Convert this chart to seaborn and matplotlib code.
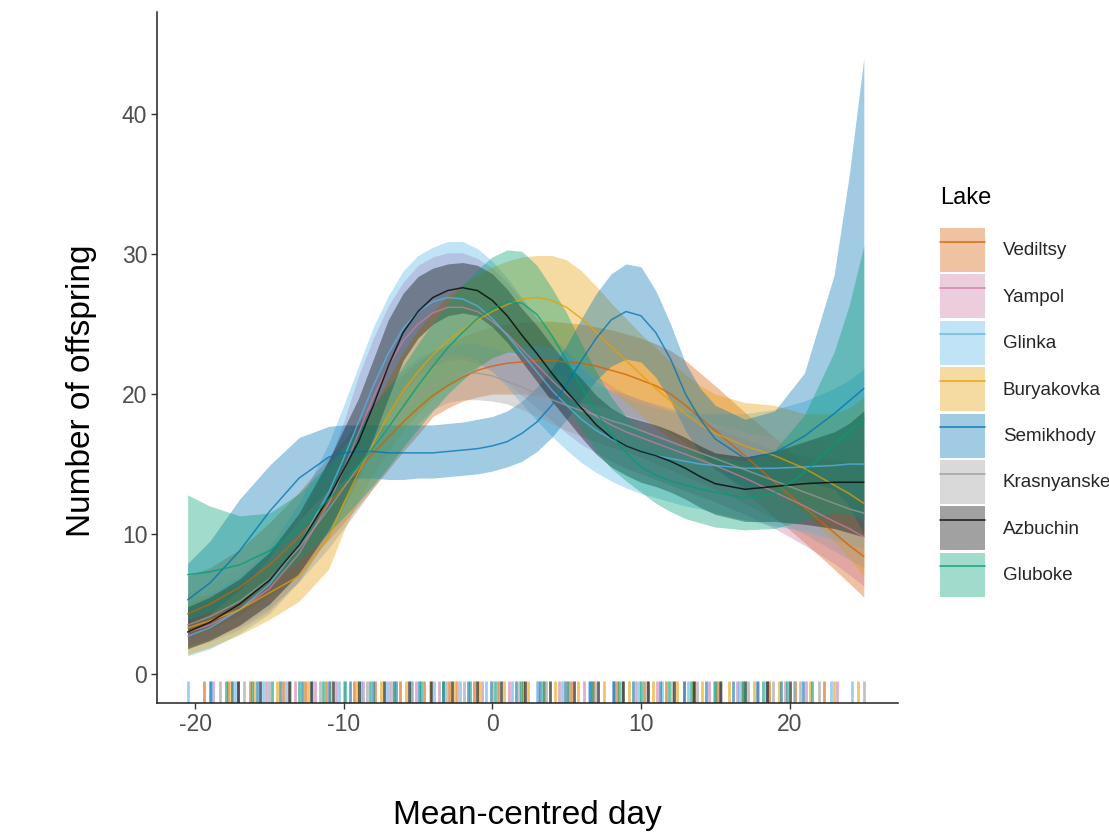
import numpy as np
import pandas as pd
import matplotlib
matplotlib.use("Agg")
import matplotlib.pyplot as plt
import seaborn as sns
from matplotlib.patches import Patch
from matplotlib.lines import Line2D

# ---------------- data ----------------
lakes = ["Vediltsy", "Yampol", "Glinka", "Buryakovka", "Semikhody",
         "Krasnyanske", "Azbuchin", "Gluboke"]
colors = ["#D55E00", "#CC79A7", "#56B4E9", "#E69F00", "#0072B2",
          "#999999", "#000000", "#009E73"]

day = [-20.5, -19, -17, -15, -13,
       -11, -10, -9, -8, -7, -6, -5, -4, -3, -2, -1,
       0, 1, 2, 3, 4, 5, 6, 7, 8, 9,
       10, 11, 12, 13, 14, 15,
       17, 19, 21, 23, 24, 25]

vediltsy_fit = [4.3, 5.0, 6.2, 7.8, 9.8,
                12.2, 13.4, 14.6, 15.8, 16.9, 18.0, 19.0, 19.9, 20.6, 21.2, 21.7,
                22.0, 22.2, 22.3, 22.4, 22.4, 22.3, 22.2, 22.0, 21.7, 21.4,
                21.0, 20.6, 20.0, 19.2, 18.3, 17.4,
                15.6, 13.7, 11.9, 10.1, 9.2, 8.4]
vediltsy_lo = [2.6, 3.2, 4.2, 5.6, 7.3,
               9.6, 10.8, 12.0, 13.3, 14.6, 15.9, 17.1, 18.4, 19.0, 19.5, 19.8,
               20.0, 20.0, 20.0, 19.9, 19.8, 19.6, 19.4, 19.2, 18.9, 18.5,
               18.2, 17.8, 17.2, 16.5, 15.6, 14.8,
               13.0, 11.2, 9.4, 7.5, 6.5, 5.5]
vediltsy_hi = [7.0, 7.6, 8.9, 10.8, 13.0,
               15.5, 16.7, 18.0, 19.2, 20.4, 21.4, 22.3, 23.0, 23.6, 24.1, 24.5,
               24.8, 25.0, 25.1, 25.2, 25.2, 25.1, 25.0, 24.8, 24.6, 24.3,
               24.0, 23.6, 23.1, 22.4, 21.5, 20.6,
               18.7, 16.9, 15.0, 13.4, 12.8, 12.4]

yampol_fit = [3.0, 3.5, 4.6, 6.1, 8.6,
              12.2, 14.6, 17.2, 19.8, 22.0, 23.8, 25.0, 25.8, 26.2, 26.2, 25.9,
              25.2, 24.3, 23.2, 22.1, 21.0, 20.0, 19.1, 18.4, 17.8, 17.3,
              16.9, 16.5, 16.1, 15.7, 15.3, 14.9,
              14.0, 13.0, 12.0, 10.9, 10.4, 9.8]
yampol_lo = [1.9, 2.3, 3.2, 4.5, 6.7,
             9.8, 11.9, 13.9, 16.3, 18.4, 20.1, 21.3, 22.0, 22.4, 22.5, 22.2,
             21.6, 20.8, 19.9, 19.0, 18.1, 17.2, 16.4, 15.8, 15.2, 14.7,
             14.3, 13.9, 13.5, 13.1, 12.7, 12.3,
             11.4, 10.4, 9.2, 7.9, 7.1, 6.3]
yampol_hi = [4.7, 5.3, 6.6, 8.2, 11.0,
             15.2, 18.0, 21.3, 24.0, 26.3, 28.0, 29.2, 29.8, 30.1, 30.1, 29.7,
             29.0, 28.0, 26.7, 25.4, 24.2, 23.1, 22.1, 21.3, 20.6, 20.0,
             19.6, 19.2, 18.8, 18.4, 18.0, 17.6,
             16.8, 16.0, 15.6, 15.3, 15.2, 15.2]

glinka_fit = [2.7, 3.3, 4.6, 6.4, 9.2,
              13.0, 15.4, 18.0, 20.6, 22.9, 24.7, 25.9, 26.6, 26.9, 26.8, 26.3,
              25.4, 24.2, 22.9, 21.6, 20.3, 19.2, 18.2, 17.4, 16.8, 16.3,
              15.9, 15.6, 15.4, 15.2, 15.0, 14.9,
              14.7, 14.7, 14.8, 14.9, 15.0, 15.0]
glinka_lo = [1.3, 1.8, 2.9, 4.3, 6.6,
             9.9, 12.0, 14.4, 16.8, 18.9, 20.6, 21.7, 22.4, 22.8, 22.8, 22.4,
             21.6, 20.5, 19.3, 18.1, 17.0, 16.0, 15.1, 14.4, 13.8, 13.3,
             12.9, 12.6, 12.3, 12.0, 11.8, 11.5,
             11.0, 10.6, 10.2, 9.6, 9.3, 9.0]
glinka_hi = [5.0, 5.7, 7.0, 9.0, 12.2,
             16.5, 19.2, 22.0, 24.8, 27.0, 28.8, 29.9, 30.5, 30.9, 30.9, 30.4,
             29.5, 28.3, 26.9, 25.5, 24.1, 22.9, 21.8, 20.9, 20.2, 19.7,
             19.3, 19.0, 18.8, 18.7, 18.6, 18.6,
             18.6, 18.9, 19.5, 20.4, 21.0, 21.8]

buryakovka_fit = [3.3, 3.8, 4.6, 5.8, 7.0,
                  9.8, 12.2, 14.4, 16.5, 18.5, 20.2, 21.6, 22.8, 23.8, 24.6, 25.3,
                  25.9, 26.4, 26.8, 26.9, 26.7, 26.2, 25.4, 24.4, 23.4, 22.4,
                  21.4, 20.4, 19.5, 18.6, 17.8, 17.2,
                  16.3, 15.6, 14.7, 13.5, 12.9, 12.2]
buryakovka_lo = [1.4, 1.9, 2.8, 3.9, 5.2,
                 7.5, 10.2, 12.4, 14.3, 15.9, 17.4, 18.6, 19.7, 20.6, 21.4, 22.0,
                 22.6, 23.0, 23.4, 23.5, 23.3, 22.8, 22.1, 21.2, 20.3, 19.4,
                 18.5, 17.6, 16.8, 16.0, 15.3, 14.7,
                 13.8, 12.9, 11.5, 9.5, 8.3, 7.0]
buryakovka_hi = [5.5, 5.7, 6.4, 7.7, 9.6,
                 12.4, 14.8, 17.0, 19.0, 21.1, 23.0, 24.6, 25.9, 27.0, 27.8, 28.5,
                 29.1, 29.5, 29.8, 29.9, 29.9, 29.6, 28.8, 27.7, 26.5, 25.4,
                 24.3, 23.3, 22.3, 21.4, 20.6, 20.0,
                 19.4, 19.2, 18.6, 18.6, 19.0, 19.8]

semikhody_fit = [5.3, 6.5, 8.8, 11.6, 14.0,
                 15.5, 15.8, 15.9, 15.9, 15.8, 15.8, 15.8, 15.8, 15.9, 16.0, 16.1,
                 16.3, 16.6, 17.2, 18.0, 19.2, 20.7, 22.4, 24.0, 25.3, 25.9,
                 25.6, 24.4, 22.5, 20.0, 18.2, 16.8,
                 15.4, 15.8, 17.0, 18.6, 19.5, 20.4]
semikhody_lo = [3.4, 4.3, 6.0, 8.3, 11.0,
                13.2, 13.8, 14.0, 14.0, 13.9, 13.9, 14.0, 14.0, 14.1, 14.2, 14.3,
                14.5, 14.8, 15.2, 15.9, 16.9, 18.2, 19.6, 21.0, 22.0, 22.5,
                22.3, 21.2, 19.5, 17.4, 15.8, 14.6,
                13.3, 13.4, 13.8, 13.2, 12.0, 10.0]
semikhody_hi = [7.9, 9.5, 12.5, 14.9, 16.9,
                17.7, 17.8, 17.8, 17.8, 17.8, 17.8, 17.8, 17.8, 17.9, 18.0, 18.2,
                18.4, 18.8, 19.5, 20.5, 21.8, 23.5, 25.4, 27.2, 28.6, 29.3,
                29.1, 27.4, 25.0, 22.2, 20.4, 19.2,
                18.2, 18.8, 21.5, 28.5, 35.5, 44.0]

krasnyanske_fit = [3.5, 4.1, 5.2, 6.8, 9.0,
                   11.8, 13.3, 14.8, 16.3, 17.6, 18.8, 19.8, 20.6, 21.2, 21.5, 21.5,
                   21.3, 20.9, 20.5, 20.0, 19.6, 19.2, 18.8, 18.5, 18.1, 17.8,
                   17.4, 17.0, 16.6, 16.2, 15.8, 15.4,
                   14.6, 13.8, 13.0, 12.2, 11.8, 11.5]
krasnyanske_lo = [2.0, 2.5, 3.4, 4.7, 6.6,
                  9.0, 10.4, 11.8, 13.3, 14.7, 16.2, 17.9, 18.9, 19.4, 19.6, 19.6,
                  19.5, 19.3, 18.9, 18.4, 17.9, 17.4, 17.0, 16.6, 16.2, 15.9,
                  15.5, 15.0, 14.6, 14.1, 13.7, 13.2,
                  12.2, 11.1, 10.0, 8.8, 8.2, 7.6]
krasnyanske_hi = [5.8, 6.4, 7.6, 9.3, 11.7,
                  14.6, 16.2, 17.8, 19.3, 20.6, 21.7, 22.6, 23.1, 23.4, 23.6, 23.6,
                  23.3, 23.0, 22.5, 22.0, 21.6, 21.2, 20.9, 20.6, 20.3, 20.0,
                  19.6, 19.3, 19.0, 18.6, 18.3, 17.9,
                  17.3, 16.9, 16.6, 16.5, 16.6, 16.8]

azbuchin_fit = [3.0, 3.7, 5.0, 6.7, 9.2,
                12.6, 14.6, 16.6, 19.2, 22.0, 24.4, 25.9, 26.9, 27.4, 27.6, 27.4,
                26.7, 25.6, 24.2, 22.9, 21.5, 20.2, 19.0, 17.8, 16.9, 16.3,
                15.9, 15.6, 15.2, 14.7, 14.1, 13.6,
                13.2, 13.4, 13.6, 13.7, 13.7, 13.7]
azbuchin_lo = [1.8, 2.4, 3.5, 5.0, 7.2,
               10.3, 12.3, 14.3, 16.9, 19.7, 22.4, 24.0, 25.0, 25.6, 25.8, 25.6,
               24.8, 23.7, 22.3, 20.9, 19.5, 18.2, 16.9, 15.7, 14.8, 14.2,
               13.7, 13.4, 13.0, 12.5, 11.9, 11.4,
               10.9, 10.9, 10.7, 10.4, 10.1, 9.8]
azbuchin_hi = [4.8, 5.5, 6.8, 8.7, 11.5,
               15.3, 17.5, 19.7, 22.5, 25.3, 27.2, 28.4, 29.0, 29.3, 29.4, 29.2,
               28.6, 27.5, 26.1, 24.9, 23.5, 22.2, 21.1, 19.9, 19.0, 18.4,
               18.1, 17.8, 17.4, 16.9, 16.3, 15.8,
               15.5, 15.9, 16.6, 17.3, 17.9, 18.8]

gluboke_fit = [7.1, 7.3, 7.8, 8.8, 10.4,
               12.5, 13.7, 14.9, 16.2, 17.6, 19.1, 20.6, 22.0, 23.3, 24.4, 25.4,
               26.1, 26.6, 26.5, 25.7, 24.2, 22.4, 20.5, 18.7, 17.1, 15.8,
               14.8, 14.2, 13.8, 13.5, 13.2, 13.0,
               12.6, 12.9, 14.4, 16.4, 17.3, 18.2]
gluboke_lo = [3.9, 4.4, 5.1, 6.4, 8.1,
              10.1, 11.2, 12.3, 13.5, 14.8, 16.2, 17.5, 18.8, 20.0, 21.0, 21.9,
              22.6, 23.0, 22.9, 22.2, 20.8, 19.2, 17.5, 15.9, 14.7, 13.8,
              13.0, 12.2, 11.6, 11.1, 10.8, 10.5,
              10.3, 10.4, 11.0, 11.5, 11.4, 11.0]
gluboke_hi = [12.8, 12.0, 11.3, 11.5, 12.9,
              15.0, 16.3, 17.6, 19.0, 20.5, 22.0, 23.6, 25.1, 26.5, 27.8, 28.9,
              29.8, 30.3, 30.2, 29.2, 27.6, 25.8, 23.6, 21.6, 19.8, 18.4,
              17.4, 16.8, 16.4, 16.1, 15.8, 15.6,
              15.2, 16.0, 18.5, 23.0, 26.3, 30.6]

fits = [vediltsy_fit, yampol_fit, glinka_fit, buryakovka_fit, semikhody_fit,
        krasnyanske_fit, azbuchin_fit, gluboke_fit]
lows = [vediltsy_lo, yampol_lo, glinka_lo, buryakovka_lo, semikhody_lo,
        krasnyanske_lo, azbuchin_lo, gluboke_lo]
highs = [vediltsy_hi, yampol_hi, glinka_hi, buryakovka_hi, semikhody_hi,
         krasnyanske_hi, azbuchin_hi, gluboke_hi]

# observation days (rug)
rug_vediltsy = [-19.4, -17.8, -16.3, -14.1, -12.6, -11.2, -9.3, -7.9, -6.2, -4.6, -2.9, -1.2,
                0.4, 2.1, 3.5, 5.3, 6.8, 8.4, 10.2, 11.7, 13.5, 15.1, 16.8, 18.6, 20.4, 22.3]
rug_yampol = [-18.8, -17.1, -15.2, -13.3, -11.9, -10.5, -8.7, -6.9, -5.1, -3.6, -2.4, -0.7,
              1.1, 3.1, 4.5, 6.2, 8.1, 9.7, 11.1, 12.9, 14.6, 16.5, 17.9, 19.7, 21.1, 23.2]
rug_glinka = [-20.5, -18.9, -17.3, -15.4, -13.9, -12.1, -10.3, -8.8, -7.1, -5.5, -3.9, -2.2,
              -0.4, 1.3, 3.0, 4.7, 6.5, 8.1, 9.9, 11.4, 13.2, 14.9, 16.6, 18.4, 20.3, 22.8,
              24.2]
rug_buryakovka = [-17.6, -16.0, -14.5, -12.4, -10.9, -9.1, -7.5, -5.8, -4.2, -2.5, -0.9, 0.8,
                  2.4, 4.2, 5.8, 7.5, 9.2, 10.8, 12.4, 14.1, 15.9, 17.6, 19.3, 21.4, 23.0,
                  24.6]
rug_semikhody = [-19.0, -17.5, -15.8, -14.3, -12.8, -11.0, -9.6, -8.0, -6.5, -4.9, -3.3, -1.6,
                 -0.1, 1.6, 3.2, 4.9, 6.6, 8.2, 9.5, 11.3, 12.9, 14.4, 16.2, 17.8, 19.4,
                 20.9]
rug_krasnyanske = [-18.3, -16.7, -15.0, -13.6, -11.6, -10.0, -8.4, -6.7, -5.4, -3.1, -1.9,
                   0.0, 1.8, 3.6, 5.0, 6.9, 8.7, 10.4, 12.1, 13.8, 15.4, 17.2, 18.9, 20.7,
                   22.0, 25.0]
rug_azbuchin = [-17.1, -15.6, -13.7, -12.2, -10.7, -9.0, -7.3, -5.6, -4.1, -2.7, -1.0, 0.6,
                2.2, 3.9, 5.5, 7.1, 8.8, 10.5, 12.2, 13.6, 15.3, 17.0, 18.5, 20.0]
rug_gluboke = [-17.9, -16.2, -14.8, -13.0, -11.4, -9.9, -8.2, -6.6, -4.8, -3.3, -1.5, 0.2,
               1.9, 3.4, 5.1, 6.7, 8.5, 10.0, 11.9, 13.4, 15.0, 16.9, 18.2, 19.8, 21.5]
rugs = [rug_vediltsy, rug_yampol, rug_glinka, rug_buryakovka, rug_semikhody,
        rug_krasnyanske, rug_azbuchin, rug_gluboke]

y_ticks = [0, 10, 20, 30, 40]
x_ticks = [-20, -10, 0, 10, 20]

# ---------------- tables ----------------
fit_df = pd.concat([pd.DataFrame({"day": day, "fit": f, "lo": lo, "hi": hi, "Lake": lk})
                    for lk, f, lo, hi in zip(lakes, fits, lows, highs)], ignore_index=True)
rug_df = pd.concat([pd.DataFrame({"day": r, "Lake": lk}) for lk, r in zip(lakes, rugs)],
                   ignore_index=True)
palette = dict(zip(lakes, colors))

# ---------------- plot ----------------
sns.set_theme(style="ticks")
plt.rcParams["font.family"] = ["Liberation Sans", "DejaVu Sans"]
plt.rcParams["axes.unicode_minus"] = False

W, H = 1109, 834
fig = plt.figure(figsize=(W / 100, H / 100), dpi=100)
ax = fig.add_axes([157 / W, (H - 703) / H, (898 - 157) / W, (703 - 12) / H])

for lk in lakes:
    d = fit_df[fit_df["Lake"] == lk]
    ax.fill_between(d["day"], d["lo"], d["hi"], color=palette[lk], alpha=0.37, lw=0)

sns.lineplot(data=fit_df, x="day", y="fit", hue="Lake", palette=palette,
             hue_order=lakes, legend=False, lw=1.1, alpha=0.75, ax=ax)

sns.rugplot(data=rug_df, x="day", hue="Lake", palette=palette, hue_order=lakes,
            height=0.032, linewidth=2.0, alpha=0.6, legend=False, ax=ax)

ax.set_xlim(-22.56, 27.3)
ax.set_ylim(-2.07, 47.3)
ax.set_xticks(x_ticks)
ax.set_yticks(y_ticks)
ax.tick_params(axis="both", labelsize=16.5, labelcolor="#4D4D4D", color="#333333",
               length=4, width=1, pad=3)
for s in ["top", "right"]:
    ax.spines[s].set_visible(False)
for s in ["left", "bottom"]:
    ax.spines[s].set_color("#222222")
    ax.spines[s].set_linewidth(1.1)

ax.set_xlabel("Mean-centred day", fontsize=24, color="black")
ax.set_ylabel("Number of offspring", fontsize=24, color="black")
ax.xaxis.set_label_coords(0.5, (703 - 800) / 691)
ax.yaxis.set_label_coords((97 - 157) / 741, (703 - 391) / 691)

fig.text(940 / W, 1 - 198 / H, "Lake", fontsize=17, ha="left", va="center", color="black")
handles = [(Patch(facecolor=c, alpha=0.37, lw=0), Line2D([], [], color=c, lw=1.2, alpha=0.8))
           for c in colors]
leg = fig.legend(handles, lakes, loc="upper left", bbox_to_anchor=(940 / W, 1 - 228 / H),
                 frameon=False, fontsize=13.5,
                 handlelength=2.4, handleheight=3.23, labelspacing=0.13,
                 handletextpad=0.95, borderpad=0, borderaxespad=0)

fig.savefig("out.png", dpi=100)
